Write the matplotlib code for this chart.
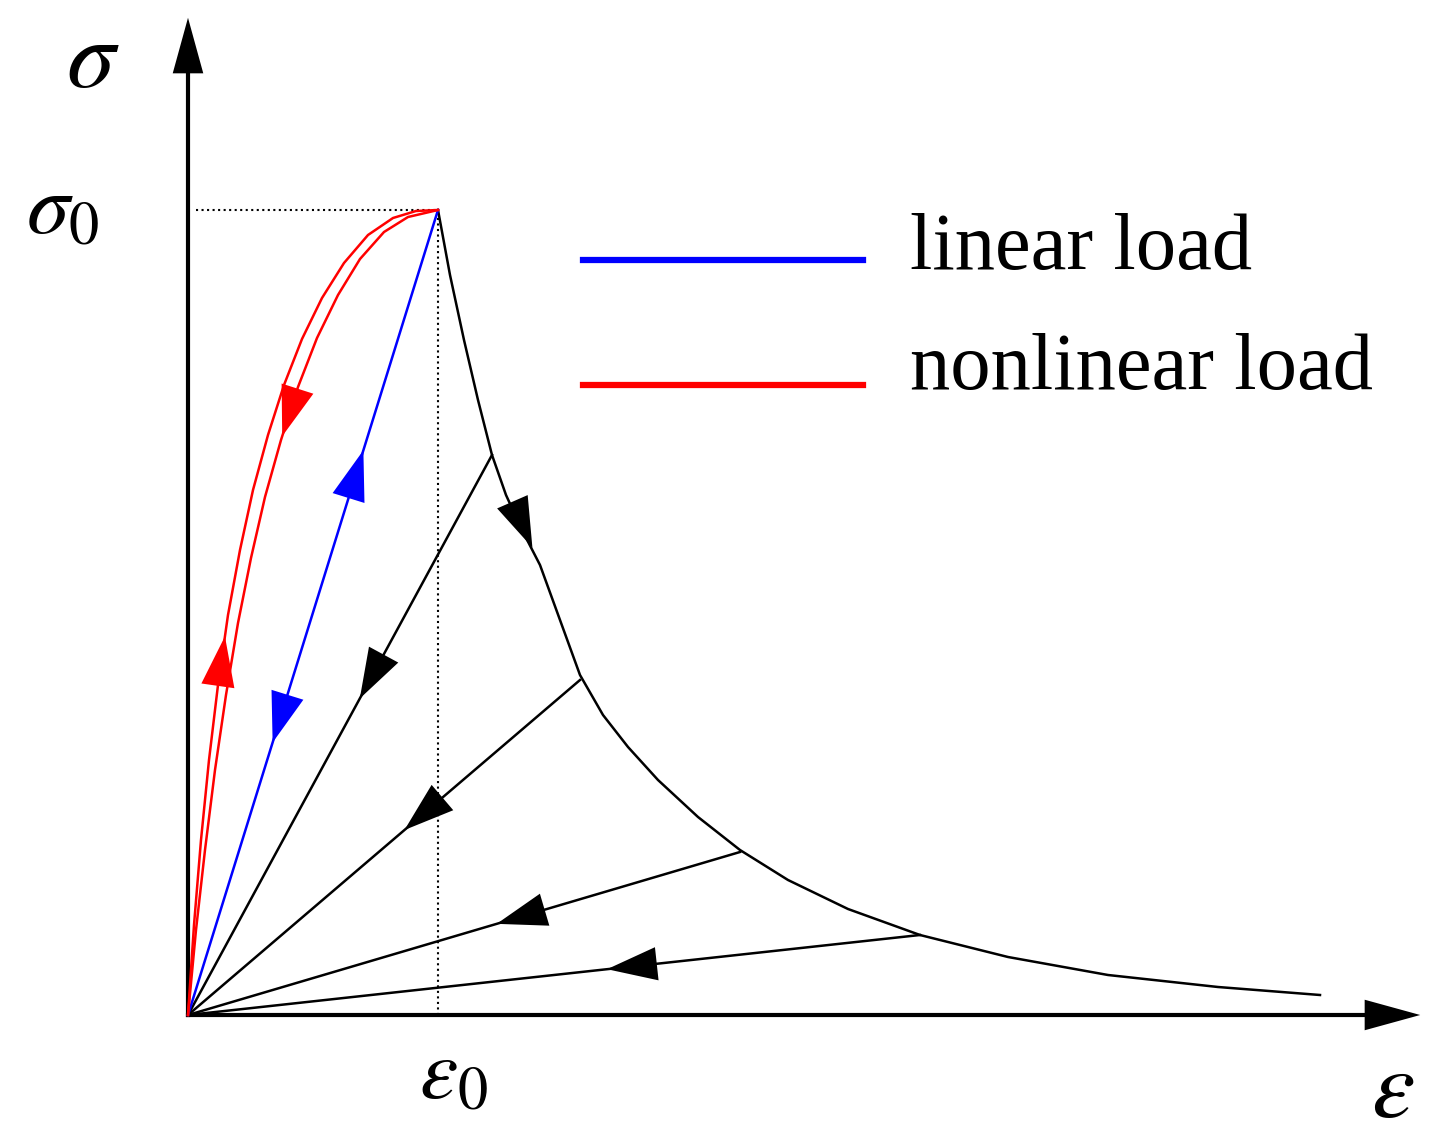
import matplotlib.pyplot as plt
import numpy as np

plt.rcParams['mathtext.fontset'] = 'stix'

# schematic coordinates (origin at the axis corner, units ~ pixels)
peak = (250, 805)
soft_x = [250, 262, 276, 290, 304, 318, 334, 352, 372, 392, 415, 440, 470, 510, 552, 600, 660, 732, 820, 920, 1030, 1132]
soft_y = [805, 740, 675, 615, 560, 520, 485, 450, 395, 340, 300, 268, 235, 198, 165, 135, 106, 80, 58, 40, 28, 20]
unload_pts = [(304, 560), (392, 335), (552, 163), (732, 80)]
red_outer_x = [0, 6, 13, 21, 30, 40, 52, 65, 80, 96, 114, 134, 156, 180, 205, 228, 250]
red_outer_y = [0, 90, 175, 255, 330, 400, 465, 525, 580, 630, 676, 717, 752, 780, 797, 804, 805]
red_inner_x = [0, 8, 17, 27, 38, 50, 63, 77, 93, 110, 129, 150, 172, 196, 220, 250]
red_inner_y = [0, 85, 165, 245, 320, 392, 457, 518, 575, 628, 677, 720, 756, 783, 798, 805]


def arrow_on(ax, x0, y0, x1, y1, t, color, size=1.0):
    # filled triangle head at fraction t along segment, pointing toward (x1, y1)
    xa, ya = x0 + (x1 - x0) * t, y0 + (y1 - y0) * t
    d = np.array([x1 - x0, y1 - y0], float)
    d /= np.hypot(*d)
    ax.annotate('', xy=(xa + d[0] * 35, ya + d[1] * 35), xytext=(xa - d[0] * 35, ya - d[1] * 35),
                arrowprops=dict(arrowstyle='-|>,head_length=%.2f,head_width=%.2f' % (3.6 * size, 1.2 * size),
                                color=color, lw=0, shrinkA=0, shrinkB=0))


fig = plt.figure(figsize=(14.56, 11.41), dpi=100)
ax = fig.add_axes([0, 0, 1, 1])
ax.set_xlim(-188, 1456 - 188)
ax.set_ylim(1015 - 1141, 1015)
ax.axis('off')

# axes
ax.plot([0, 1200], [0, 0], color='black', lw=3)
ax.plot([0, 0], [0, 960], color='black', lw=3)
ax.annotate('', xy=(1235, 0), xytext=(1150, 0),
            arrowprops=dict(arrowstyle='-|>,head_length=4,head_width=1.1', color='black', lw=0))
ax.annotate('', xy=(0, 1000), xytext=(0, 920),
            arrowprops=dict(arrowstyle='-|>,head_length=4,head_width=1.1', color='black', lw=0))

# dotted guides
ax.plot([8, peak[0]], [peak[1], peak[1]], 'k:', lw=1.5)
ax.plot([peak[0], peak[0]], [0, peak[1]], 'k:', lw=1.5)

# softening curve
ax.plot(soft_x, soft_y, color='black', lw=1.8)
arrow_on(ax, 304, 560, 352, 450, 0.55, 'black')

# unloading lines
for (px, py) in unload_pts:
    ax.plot([0, px], [0, py], color='black', lw=1.8)
    arrow_on(ax, px, py, 0, 0, 0.38, 'black')

# linear load (blue)
ax.plot([0, peak[0]], [0, peak[1]], color='blue', lw=1.8)
arrow_on(ax, 0, 0, peak[0], peak[1], 0.66, 'blue')
arrow_on(ax, peak[0], peak[1], 0, 0, 0.62, 'blue')

# nonlinear load (red)
ax.plot(red_outer_x, red_outer_y, color='red', lw=1.8)
ax.plot(red_inner_x, red_inner_y, color='red', lw=1.8)
arrow_on(ax, 30, 330, 40, 400, 0.2, 'red')
arrow_on(ax, 110, 628, 93, 575, 0.3, 'red')

# legend
ax.plot([395, 675], [755, 755], color='blue', lw=4.5)
ax.plot([395, 675], [630, 630], color='red', lw=4.5)
ax.text(722, 765, 'linear load', fontsize=58, family='Liberation Serif', va='center')
ax.text(722, 645, 'nonlinear load', fontsize=58, family='Liberation Serif', va='center')

# labels
ax.text(-95, 955, r'$\sigma$', fontsize=70, va='center', ha='center')
ax.text(-125, 805, r'$\sigma_0$', fontsize=62, va='center', ha='center')
ax.text(265, -60, r'$\varepsilon_0$', fontsize=62, va='center', ha='center')
ax.text(1205, -75, r'$\varepsilon$', fontsize=70, va='center', ha='center')

fig.savefig('out.png', dpi=100)
